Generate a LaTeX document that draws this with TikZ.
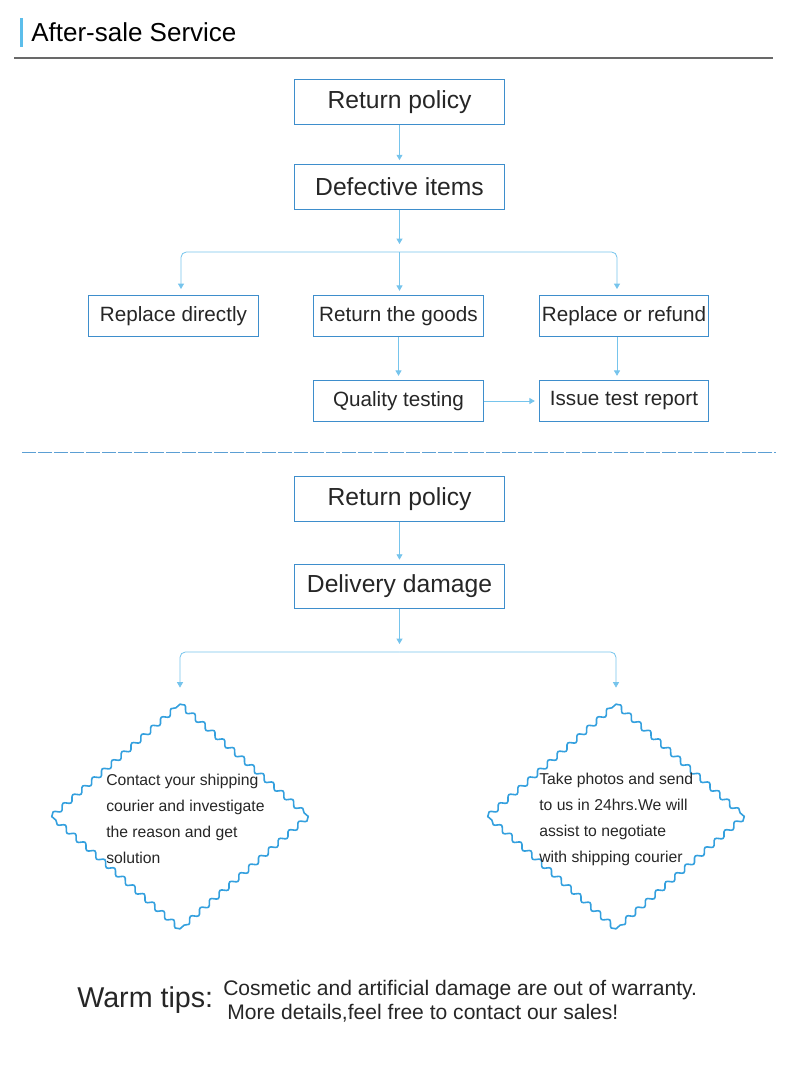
\documentclass[tikz,border=0pt]{standalone}
\usepackage{fontspec}
\setmainfont{Liberation Sans}
\usetikzlibrary{arrows.meta,calc,positioning,shapes.geometric,decorations.pathmorphing}
\definecolor{BoxBlue}{RGB}{62,142,204}
\definecolor{ArrowBlue}{RGB}{118,196,236}
\definecolor{BarBlue}{RGB}{92,190,235}
\definecolor{WaveBlue}{RGB}{52,160,222}
\definecolor{RuleGray}{RGB}{105,105,105}
\begin{document}
\begin{tikzpicture}[x=0.75pt,y=-0.75pt,>={Triangle[width=4.5pt,length=4pt]},
    every node/.style={text=black!85},
    bigbox/.style={draw=BoxBlue,line width=0.8pt,minimum width=158pt,minimum height=33.5pt,inner sep=0pt,font=\fontsize{18.5}{22}\selectfont},
    smallbox/.style={bigbox,minimum width=127pt,minimum height=31pt,font=\fontsize{15.5}{19}\selectfont},
    flow/.style={->,ArrowBlue,line width=0.6pt,shorten >=3pt},
    wave/.style={WaveBlue,line width=1.2pt,line cap=round,decorate,decoration={snake,segment length=9.8pt,amplitude=1.9pt}},
    tipbox/.style={align=left,inner sep=0pt,font=\fontsize{11.8}{19.5}\selectfont}]
  \useasboundingbox (0,0) rectangle (800,1065);
  % header
  \fill[BarBlue] (19.5,18) rectangle (23,47);
  \node[anchor=west,inner sep=0pt,font=\fontsize{19.5}{23}\selectfont,text=black] (title) at (31,32) {After-sale Service};
  \draw[RuleGray,line width=1.5pt] (14,58) -- (773,58);
  % defective items
  \node[bigbox] (rp1) at (399.5,102) {Return policy};
  \node[bigbox] (di) at (399.5,187) {Defective items};
  \node[smallbox] (rd) at (173.5,316) {Replace directly};
  \node[smallbox] (rg) at (398.5,316) {Return the goods};
  \node[smallbox] (rr) at (624,316) {Replace or refund};
  \node[smallbox] (qt) at (398.5,401) {Quality testing};
  \node[smallbox] (ir) at (624,401) {Issue test report};
  \coordinate (j1) at (399.5,252);
  \coordinate (l1) at (181,289);
  \coordinate (r1) at (617,289);
  \draw[flow] (rp1) -- (di);
  \draw[flow,shorten >=6pt] (di) -- (j1);
  \draw[flow,shorten >=0pt,rounded corners=4pt] (j1) -| (l1);
  \draw[flow,shorten >=0pt,rounded corners=4pt] (j1) -| (r1);
  \draw[flow] (j1) -- (j1 |- rg.north);
  \draw[flow] (rg) -- (qt);
  \draw[flow] (rr.south -| r1) -- (ir.north -| r1);
  \draw[flow] (qt) -- (ir);
  \draw[BoxBlue!85,line width=0.6pt,dash pattern=on 10.5pt off 1.5pt] (22,452) -- (776,452);
  % delivery damage
  \node[bigbox] (rp2) at (399.5,499) {Return policy};
  \node[bigbox] (dd) at (399.5,586.5) {Delivery damage};
  \node[diamond,minimum width=192pt,minimum height=168pt,inner sep=0pt] (dl) at (180,816.5) {};
  \node[diamond,minimum width=192pt,minimum height=168pt,inner sep=0pt] (dr) at (616,816.5) {};
  \coordinate (j2) at (399.5,652);
  \draw[flow] (rp2) -- (dd);
  \draw[flow,shorten >=6pt] (dd) -- (j2);
  \draw[flow,shorten >=12.5pt,rounded corners=4pt] (j2) -| (dl.north);
  \draw[flow,shorten >=12.5pt,rounded corners=4pt] (j2) -| (dr.north);
  \foreach \d in {dl,dr}{
    \draw[wave] (\d.west) -- (\d.north);
    \draw[wave] (\d.north) -- (\d.east);
    \draw[wave] (\d.east) -- (\d.south);
    \draw[wave] (\d.south) -- (\d.west);
  }
  \node[tipbox,anchor=west] (tl) at (106,819) {Contact your shipping\\courier and investigate\\the reason and get\\solution};
  \node[tipbox,anchor=west] (tr) at (539,819) {Take photos and send\\to us in 24hrs.We will\\assist to negotiate\\with shipping courier};
  % warm tips
  \node[anchor=west,inner sep=0pt,font=\fontsize{21.5}{26}\selectfont] (wt) at (77,1000) {Warm tips:};
  \node[anchor=west,inner sep=0pt,align=left,font=\fontsize{15.8}{18}\selectfont] (wn) at (223,1001) {Cosmetic and artificial damage are out of warranty.\\\hspace{3pt}More details,feel free to contact our sales!};
\end{tikzpicture}
\end{document}
